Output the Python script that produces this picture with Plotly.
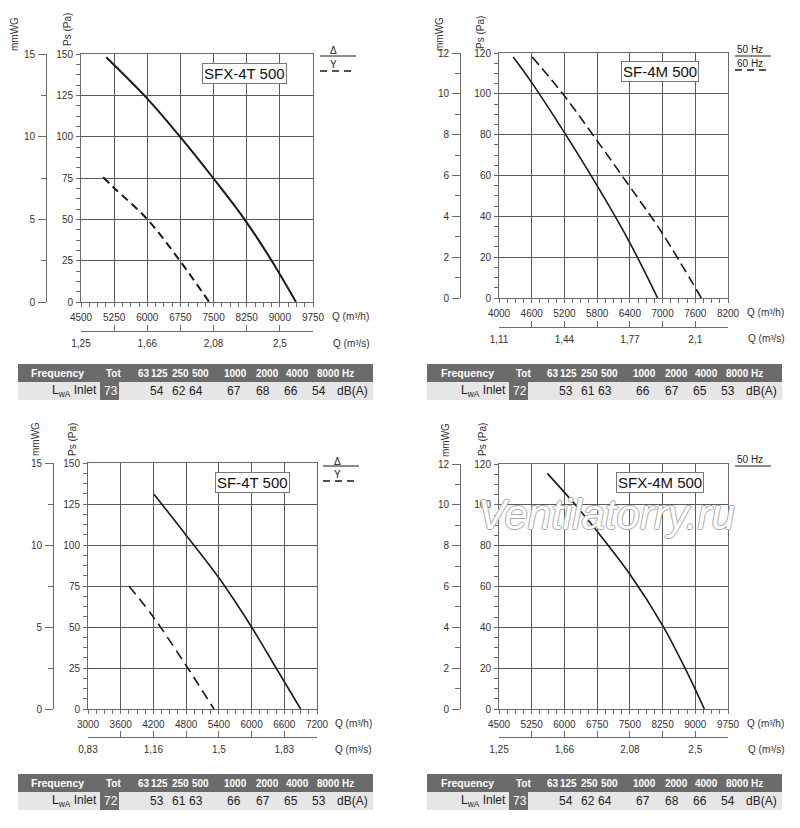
import plotly.graph_objects as go

# ---------------------------------------------------------------------------
# Data (Q in m3/h, Ps in Pa)
# ---------------------------------------------------------------------------

FREQ_BANDS = ["63", "125", "250", "500", "1000", "2000", "4000", "8000"]

# SFX-4T 500 (top left)
SFX4T_DELTA_Q = [5070, 6000, 6740, 7490, 8200, 8815, 9365]
SFX4T_DELTA_PA = [148, 123, 100, 75, 50, 25, 0]
SFX4T_Y_Q = [5000, 5250, 6000, 6750, 7400]
SFX4T_Y_PA = [75.5, 69, 50, 24.5, 0]
SFX4T_Q_TICKS = [4500, 5250, 6000, 6750, 7500, 8250, 9000, 9750]
SFX4T_QS_LABELS = ["1,25", "1,66", "2,08", "2,5"]
SFX4T_TOT = 73
SFX4T_LWA = [None, 54, 62, 64, 67, 68, 66, 54]

# SF-4M 500 (top right)
SF4M_50_Q = [4260, 4600, 5200, 5800, 6400, 6910]
SF4M_50_PA = [118, 105.5, 81, 55, 27, 0]
SF4M_60_Q = [4610, 5200, 5800, 6400, 7000, 7710]
SF4M_60_PA = [118, 99, 77, 54.5, 31.5, 0]
SF4M_Q_TICKS = [4000, 4600, 5200, 5800, 6400, 7000, 7600, 8200]
SF4M_QS_LABELS = ["1,11", "1,44", "1,77", "2,1"]
SF4M_TOT = 72
SF4M_LWA = [None, 53, 61, 63, 66, 67, 65, 53]

# SF-4T 500 (bottom left)
SF4T_DELTA_Q = [4210, 4800, 5400, 6000, 6450, 6900]
SF4T_DELTA_PA = [131, 106, 80, 50, 25, 0]
SF4T_Y_Q = [3750, 4200, 4800, 5310]
SF4T_Y_PA = [75, 56, 26.5, 0]
SF4T_Q_TICKS = [3000, 3600, 4200, 4800, 5400, 6000, 6600, 7200]
SF4T_QS_LABELS = ["0,83", "1,16", "1,5", "1,83"]
SF4T_TOT = 72
SF4T_LWA = [None, 53, 61, 63, 66, 67, 65, 53]

# SFX-4M 500 (bottom right)
SFX4M_50_Q = [5608, 6250, 6750, 7500, 8250, 8765, 9208]
SFX4M_50_PA = [115.4, 100, 87, 66, 41, 20, 0]
SFX4M_Q_TICKS = [4500, 5250, 6000, 6750, 7500, 8250, 9000, 9750]
SFX4M_QS_LABELS = ["1,25", "1,66", "2,08", "2,5"]
SFX4M_TOT = 73
SFX4M_LWA = [None, 54, 62, 64, 67, 68, 66, 54]

# ---------------------------------------------------------------------------
# Page geometry (pixels of the 800 x 828 sheet)
# ---------------------------------------------------------------------------

W, H = 800, 828
FONT = "Liberation Sans, Arial, sans-serif"
INK = "#1a1a1a"
GRID = "#5a5a5a"
FRAME = "#6a6a6a"
DARK_CELL = "#6b6b6b"
LIGHT_CELL = "#e6e6e6"

# table column anchors, pixels from the table's left edge
TABLE_W = 355
HDR_X = [40, 96, 125.5, 141.5, 162.5, 182, 217, 249.5, 279.5, 310, 330]
ROW_X = [81, 93, 126, 139, 161, 178, 216, 245, 273, 301, 334]
TOT_CELL = (82, 101)
ROW_H = 18


def px(x):
    return x / W


def py(y):
    return 1 - y / H


def ax_key(kind, n):
    return kind + "axis" + ("" if n == 1 else str(n))


def ax_ref(kind, n):
    return kind + ("" if n == 1 else str(n))


PANELS = [
    dict(name="SFX-4T 500", plot=(81, 313, 54, 302), mm_x=46, qs_y=331,
         q_ticks=SFX4T_Q_TICKS, qs_labels=SFX4T_QS_LABELS, q_minor=187.5,
         pa_max=150, pa_dtick=25, pa_minor=6.25, mm_max=15, mm_dtick=5, mm_minor=2.5,
         curves=[(SFX4T_DELTA_Q, SFX4T_DELTA_PA, "solid"), (SFX4T_Y_Q, SFX4T_Y_PA, "8px,5px")],
         lw=2.0, title_c=(244, 73.5), mm_lab=(15, 34), ps_lab=(67, 30),
         qh_lab=(330, 317), qs_lab=(331, 343),
         legend=dict(kind="dy", x=(320, 356), lines=(56, 71), text=(333, 50, 64)),
         table=dict(x=18, y=364, tot=SFX4T_TOT, lwa=SFX4T_LWA)),
    dict(name="SF-4M 500", plot=(499, 728, 53, 298), mm_x=460, qs_y=327,
         q_ticks=SF4M_Q_TICKS, qs_labels=SF4M_QS_LABELS, q_minor=150,
         pa_max=120, pa_dtick=20, pa_minor=5, mm_max=12, mm_dtick=2, mm_minor=1,
         curves=[(SF4M_50_Q, SF4M_50_PA, "solid"), (SF4M_60_Q, SF4M_60_PA, "10px,5px")],
         lw=1.6, title_c=(660, 72), mm_lab=(440, 34), ps_lab=(481, 32),
         qh_lab=(745, 312), qs_lab=(746, 338),
         legend=dict(kind="hz2", x=(735, 771), lines=(56, 70), text=(735, 49, 63)),
         table=dict(x=427, y=364, tot=SF4M_TOT, lwa=SF4M_LWA)),
    dict(name="SF-4T 500", plot=(88, 317, 463, 709), mm_x=53, qs_y=737,
         q_ticks=SF4T_Q_TICKS, qs_labels=SF4T_QS_LABELS, q_minor=150,
         pa_max=150, pa_dtick=25, pa_minor=6.25, mm_max=15, mm_dtick=5, mm_minor=2.5,
         curves=[(SF4T_DELTA_Q, SF4T_DELTA_PA, "solid"), (SF4T_Y_Q, SF4T_Y_PA, "10px,6px")],
         lw=1.6, title_c=(252, 482), mm_lab=(35, 439), ps_lab=(72, 440),
         qh_lab=(333, 723), qs_lab=(333, 749),
         legend=dict(kind="dy", x=(323, 359), lines=(466, 481), text=(337, 461, 474)),
         table=dict(x=18, y=774, tot=SF4T_TOT, lwa=SF4T_LWA)),
    dict(name="SFX-4M 500", plot=(499, 728, 464, 709), mm_x=460, qs_y=737,
         q_ticks=SFX4M_Q_TICKS, qs_labels=SFX4M_QS_LABELS, q_minor=187.5,
         pa_max=120, pa_dtick=20, pa_minor=5, mm_max=12, mm_dtick=2, mm_minor=1,
         curves=[(SFX4M_50_Q, SFX4M_50_PA, "solid")],
         lw=1.6, title_c=(660, 482), mm_lab=(445, 440), ps_lab=(482, 440),
         qh_lab=(745, 723), qs_lab=(746, 749),
         legend=dict(kind="hz1", x=(735, 771), lines=(466,), text=(735, 459)),
         table=dict(x=427, y=774, tot=SFX4M_TOT, lwa=SFX4M_LWA)),
]

fig = go.Figure()
layout = {}
annotations = []
shapes = []
tick_font = dict(family=FONT, size=10, color="#333333")


def note(text, x, y, font, xanchor="center", **kw):
    annotations.append(dict(text=text, x=px(x), y=py(y), xref="paper", yref="paper",
                            xanchor=xanchor, yanchor="middle", showarrow=False,
                            font=font, **kw))


for i, p in enumerate(PANELS):
    n_main = 2 * i + 1
    n_sec = 2 * i + 2
    x0, x1, y0, y1 = p["plot"]
    q0, q1 = p["q_ticks"][0], p["q_ticks"][-1]
    q_step = p["q_ticks"][1] - p["q_ticks"][0]

    # --- curves ---
    for q, pa, dash in p["curves"]:
        fig.add_trace(go.Scatter(
            x=q, y=pa, mode="lines",
            xaxis=ax_ref("x", n_main), yaxis=ax_ref("y", n_main),
            line=dict(color=INK, width=p["lw"], dash=dash, shape="spline", smoothing=1.0),
            showlegend=False, hoverinfo="skip",
        ))
    # keep the secondary scales attached to a subplot
    fig.add_trace(go.Scatter(x=[None], y=[None], xaxis=ax_ref("x", n_sec),
                             yaxis=ax_ref("y", n_main), showlegend=False, hoverinfo="skip"))
    fig.add_trace(go.Scatter(x=[None], y=[None], xaxis=ax_ref("x", n_main),
                             yaxis=ax_ref("y", n_sec), showlegend=False, hoverinfo="skip"))

    # --- Q (m3/h) axis ---
    layout[ax_key("x", n_main)] = dict(
        domain=[px(x0), px(x1)], anchor=ax_ref("y", n_main), range=[q0, q1],
        tickvals=p["q_ticks"], ticks="outside", ticklen=4, tickcolor=FRAME,
        minor=dict(dtick=p["q_minor"], tick0=q0, ticks="outside", ticklen=4,
                   tickcolor=FRAME, showgrid=False),
        showgrid=True, gridcolor=GRID, gridwidth=1, zeroline=False,
        showline=True, linecolor=FRAME, linewidth=1, mirror=True,
        tickfont=tick_font, ticklabelstandoff=2, automargin=False,
    )
    # --- Ps (Pa) axis ---
    layout[ax_key("y", n_main)] = dict(
        domain=[py(y1), py(y0)], anchor=ax_ref("x", n_main), range=[0, p["pa_max"]],
        dtick=p["pa_dtick"], tick0=0, ticks="outside", ticklen=4, tickcolor=FRAME,
        minor=dict(dtick=p["pa_minor"], tick0=0, ticks="outside", ticklen=4,
                   tickcolor=FRAME, showgrid=False),
        showgrid=True, gridcolor=GRID, gridwidth=1, zeroline=False,
        showline=True, linecolor=FRAME, linewidth=1, mirror=True,
        tickfont=tick_font, ticklabelstandoff=1, automargin=False,
    )
    # --- mmWG axis ---
    layout[ax_key("y", n_sec)] = dict(
        overlaying=ax_ref("y", n_main), anchor="free", position=px(p["mm_x"]),
        side="left", range=[0, p["mm_max"]], dtick=p["mm_dtick"], tick0=0,
        ticks="outside", ticklen=8, tickcolor=FRAME,
        minor=dict(dtick=p["mm_minor"], tick0=0, ticks="outside", ticklen=5,
                   tickcolor=FRAME, showgrid=False),
        showgrid=False, zeroline=False, showline=True, linecolor=FRAME, linewidth=1,
        tickfont=tick_font, ticklabelstandoff=1, automargin=False,
    )
    # --- Q (m3/s) axis: labelled every second step, plain ticks in between ---
    layout[ax_key("x", n_sec)] = dict(
        overlaying=ax_ref("x", n_main), anchor="free", position=py(p["qs_y"]),
        side="bottom", range=[q0 / 3600, q1 / 3600],
        tickvals=[q / 3600 for q in p["q_ticks"][::2]], ticktext=p["qs_labels"],
        ticks="inside", ticklen=6, tickcolor=FRAME,
        minor=dict(tick0=q0 / 3600, dtick=q_step / 3600, ticks="inside", ticklen=6,
                   tickcolor=FRAME, showgrid=False),
        showgrid=False, zeroline=False, showline=True, linecolor=FRAME, linewidth=1,
        tickfont=tick_font, ticklabelstandoff=3, automargin=False,
    )

    # --- text around the chart ---
    note(p["name"], *p["title_c"], dict(family=FONT, size=15, color="#111111"),
         bgcolor="white", bordercolor="#777777", borderwidth=1, borderpad=1)
    note("mmWG", *p["mm_lab"], dict(family=FONT, size=10, color="#333333"), textangle=-90)
    note("Ps (Pa)", *p["ps_lab"], dict(family=FONT, size=10, color="#333333"), textangle=-90)
    note("Q (m³/h)", *p["qh_lab"], tick_font, xanchor="left")
    note("Q (m³/s)", *p["qs_lab"], tick_font, xanchor="left")

    # --- legend key ---
    lg = p["legend"]
    lx0, lx1 = lg["x"]
    if lg["kind"] == "dy":
        labels, anchor = ["Δ", "Y"], "center"
    elif lg["kind"] == "hz2":
        labels, anchor = ["50 Hz", "60 Hz"], "left"
    else:
        labels, anchor = ["50 Hz"], "left"
    for j, lab in enumerate(labels):
        note(lab, lg["text"][0], lg["text"][1 + j],
             dict(family=FONT, size=10, color="#222222"), xanchor=anchor)
        shapes.append(dict(
            type="line", xref="paper", yref="paper",
            x0=px(lx0), x1=px(lx1), y0=py(lg["lines"][j]), y1=py(lg["lines"][j]),
            line=dict(color=INK, width=1.2 if j == 0 else 1.4,
                      dash="solid" if j == 0 else "7px,5px"),
        ))

    # --- sound power table ---
    t = p["table"]
    tx, ty = t["x"], t["y"]
    for (ya, yb, col) in ((ty, ty + ROW_H, DARK_CELL), (ty + ROW_H, ty + 2 * ROW_H, LIGHT_CELL)):
        shapes.append(dict(type="rect", xref="paper", yref="paper", layer="below",
                           x0=px(tx), x1=px(tx + TABLE_W), y0=py(yb), y1=py(ya),
                           fillcolor=col, line=dict(width=0)))
    shapes.append(dict(type="rect", xref="paper", yref="paper", layer="below",
                       x0=px(tx + TOT_CELL[0]), x1=px(tx + TOT_CELL[1]),
                       y0=py(ty + 2 * ROW_H), y1=py(ty + ROW_H),
                       fillcolor=DARK_CELL, line=dict(width=0)))
    header_vals = ["Frequency", "Tot"] + FREQ_BANDS + ["Hz"]
    row_vals = ["L<sub>wA</sub> Inlet", str(t["tot"])] + \
        ["" if v is None else str(v) for v in t["lwa"]] + ["dB(A)"]
    hy = ty + ROW_H / 2
    ry = ty + 1.5 * ROW_H
    for k, txt in enumerate(header_vals):
        note("<b>%s</b>" % txt, tx + HDR_X[k], hy,
             dict(family=FONT, size=10.5 if k == 0 else 10, color="white"))
    for k, txt in enumerate(row_vals):
        if not txt:
            continue
        color = "white" if k == 1 else "#222222"
        note(txt, tx + ROW_X[k], ry, dict(family=FONT, size=12, color=color),
             xanchor="right" if k == 0 else "center")

# watermark over the bottom right chart
note("Ventilatorry.ru", 606, 514,
     dict(family=FONT, size=42, style="italic", color="white",
          shadow="1px 0 0 #a8a8a8, -1px 0 0 #a8a8a8, 0 1px 0 #a8a8a8, 0 -1px 0 #a8a8a8"))

fig.update_layout(
    width=W, height=H,
    margin=dict(l=0, r=0, t=0, b=0, pad=0, autoexpand=False),
    paper_bgcolor="white", plot_bgcolor="white",
    showlegend=False,
    annotations=annotations, shapes=shapes,
    font=dict(family=FONT),
    **layout,
)

# the sheet fills the whole window, so drop the default page margin
fig.write_html("out.html", config={"displayModeBar": False},
               post_script="document.body.style.margin = '0px';")
